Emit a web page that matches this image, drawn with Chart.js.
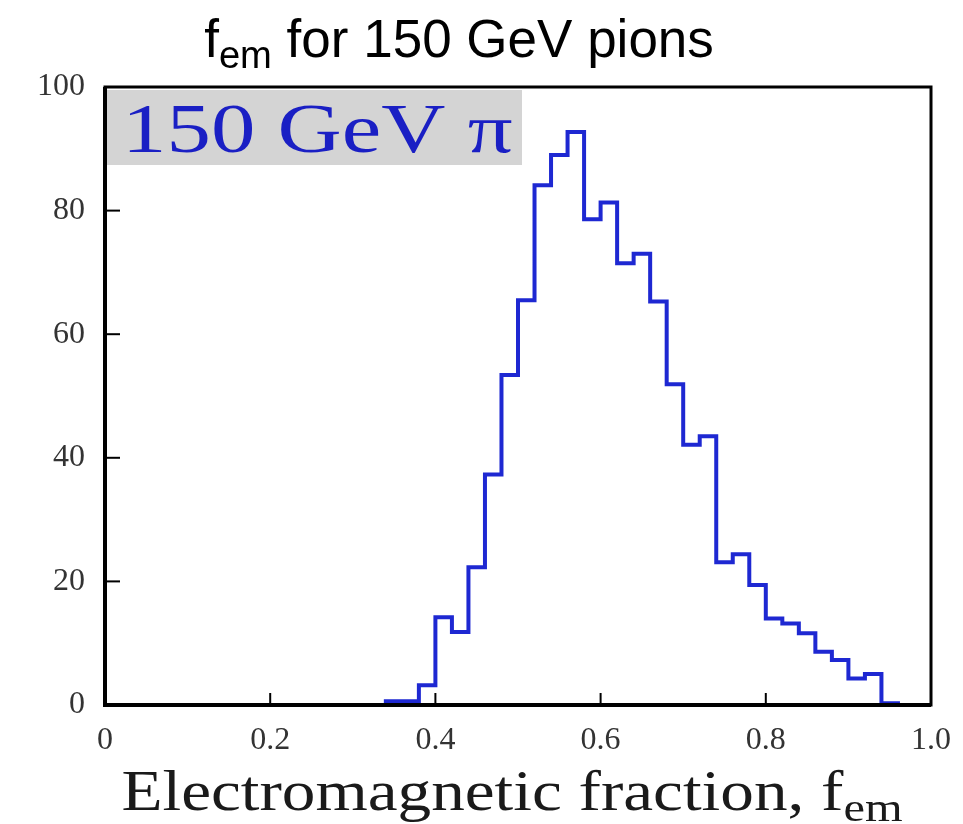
<!DOCTYPE html>
<html>
<head>
<meta charset="utf-8">
<script src="https://cdn.jsdelivr.net/npm/chart.js@4"></script>
<style>
  body { margin: 0; background: #fff; }
  #wrap { width: 963px; height: 824px; }
</style>
</head>
<body>
<div id="wrap"><canvas id="fem"></canvas></div>
<script>
// bin edges of the histogram (left edges + closing edge)
var binEdges = [0.34, 0.36, 0.38, 0.40, 0.42, 0.44, 0.46, 0.48, 0.50, 0.52, 0.54,
  0.56, 0.58, 0.60, 0.62, 0.64, 0.66, 0.68, 0.70, 0.72, 0.74, 0.76, 0.78,
  0.80, 0.82, 0.84, 0.86, 0.88, 0.90, 0.92, 0.94, 0.96];
// entries per bin
var counts = [0.6, 0.6, 3.2, 14.2, 11.8, 22.3, 37.3, 53.4, 65.5, 84.1, 89.0,
  92.7, 78.6, 81.3, 71.5, 73.0, 65.3, 51.9, 42.1, 43.5, 23.1, 24.4, 19.4,
  14.0, 13.2, 11.6, 8.6, 7.3, 4.3, 5.0, 0.3];
var xTicks = [0, 0.2, 0.4, 0.6, 0.8, 1.0];
var yTicks = [0, 20, 40, 60, 80, 100];
var boxLabel = '150 GeV \u03C0';

// stepped line points: start on baseline, one point per bin, back to baseline
var steps = [{x: binEdges[0], y: 0}];
counts.forEach(function(c, i) { steps.push({x: binEdges[i], y: c}) });
steps.push({x: binEdges[binEdges.length - 1], y: 0});

var serif = '"Liberation Serif", "DejaVu Serif", serif';
var sans = '"Liberation Sans", Arial, sans-serif';

// text with a subscript part, centred on x
function subText(ctx, parts, x, y, size, family, stretch) {
  var w = 0;
  parts.forEach(function(p) {
    ctx.font = (p.sub ? size * 0.72 : size) + 'px ' + family;
    p.w = ctx.measureText(p.t).width;
    w += p.w;
  });
  ctx.save();
  ctx.translate(x, y);
  ctx.scale(stretch, 1);
  var cx = -w / 2;
  parts.forEach(function(p) {
    ctx.font = (p.sub ? size * 0.72 : size) + 'px ' + family;
    ctx.fillText(p.t, cx, p.sub ? size * 0.2 : 0);
    cx += p.w;
  });
  ctx.restore();
}

var decor = {
  id: 'decor',
  beforeDatasetsDraw: function(chart) {
    var ctx = chart.ctx, a = chart.chartArea;
    ctx.save();
    ctx.fillStyle = '#d4d4d4';
    ctx.fillRect(a.left + 2, a.top + 3, 415, 75);
    ctx.fillStyle = '#1a1fc4';
    ctx.font = '70px ' + serif;
    ctx.translate(a.left + 17, a.top + 65);
    ctx.scale(1.27, 1);
    ctx.fillText(boxLabel, 0, 0);
    ctx.restore();
  },
  afterDatasetsDraw: function(chart) {
    var ctx = chart.ctx, a = chart.chartArea;
    var xs = chart.scales.x, ys = chart.scales.y;
    ctx.save();
    ctx.strokeStyle = '#000';
    ctx.lineWidth = 2;
    // inward tick marks
    xTicks.slice(1, -1).forEach(function(v) {
      var px = xs.getPixelForValue(v);
      ctx.beginPath(); ctx.moveTo(px, a.bottom); ctx.lineTo(px, a.bottom - 12); ctx.stroke();
    });
    yTicks.slice(1, -1).forEach(function(v) {
      var py = ys.getPixelForValue(v);
      ctx.beginPath(); ctx.moveTo(a.left, py); ctx.lineTo(a.left + 15, py); ctx.stroke();
    });
    // frame
    ctx.lineWidth = 3;
    ctx.strokeRect(a.left, a.top, a.right - a.left, a.bottom - a.top);
    ctx.lineWidth = 4;
    ctx.beginPath();
    ctx.moveTo(a.left, a.top); ctx.lineTo(a.left, a.bottom); ctx.lineTo(a.right, a.bottom);
    ctx.stroke();
    ctx.restore();
  },
  afterDraw: function(chart) {
    var ctx = chart.ctx;
    ctx.save();
    ctx.fillStyle = '#000';
    ctx.textBaseline = 'alphabetic';
    subText(ctx, [{t: 'f'}, {t: 'em', sub: true}, {t: ' for 150 GeV pions'}], 459, 57, 53, sans, 1);
    ctx.fillStyle = '#1a1a1a';
    subText(ctx, [{t: 'Electromagnetic fraction, f'}, {t: 'em', sub: true}], 512, 810, 56, serif, 1.2);
    ctx.restore();
  }
};

Chart.defaults.font.family = serif;
new Chart('fem', {
  type: 'line',
  data: {
    datasets: [{
      data: steps,
      stepped: 'before',
      borderColor: '#1e28d2',
      borderWidth: 4,
      pointRadius: 0,
      fill: false
    }]
  },
  options: {
    responsive: true,
    maintainAspectRatio: false,
    animation: false,
    layout: { padding: { top: 87, right: 32, left: 0, bottom: 0 } },
    plugins: { legend: { display: false }, tooltip: { enabled: false } },
    scales: {
      x: {
        type: 'linear', min: 0, max: 1,
        afterFit: function(s) { s.height = 119 },
        afterBuildTicks: function(s) { s.ticks = xTicks.map(function(v) { return {value: v} }) },
        grid: { display: false, drawTicks: false },
        border: { display: false },
        ticks: {
          padding: 0, color: '#333', font: { size: 32, lineHeight: 2.2 },
          maxRotation: 0, autoSkip: false,
          callback: function(v) { return v === 0 ? '0' : v.toFixed(1) }
        }
      },
      y: {
        min: 0, max: 100,
        afterFit: function(s) { s.width = 105 },
        afterBuildTicks: function(s) { s.ticks = yTicks.map(function(v) { return {value: v} }) },
        grid: { display: false, drawTicks: false },
        border: { display: false },
        ticks: { padding: 20, color: '#333', font: { size: 32 } }
      }
    }
  },
  plugins: [decor]
});
</script>
</body>
</html>
